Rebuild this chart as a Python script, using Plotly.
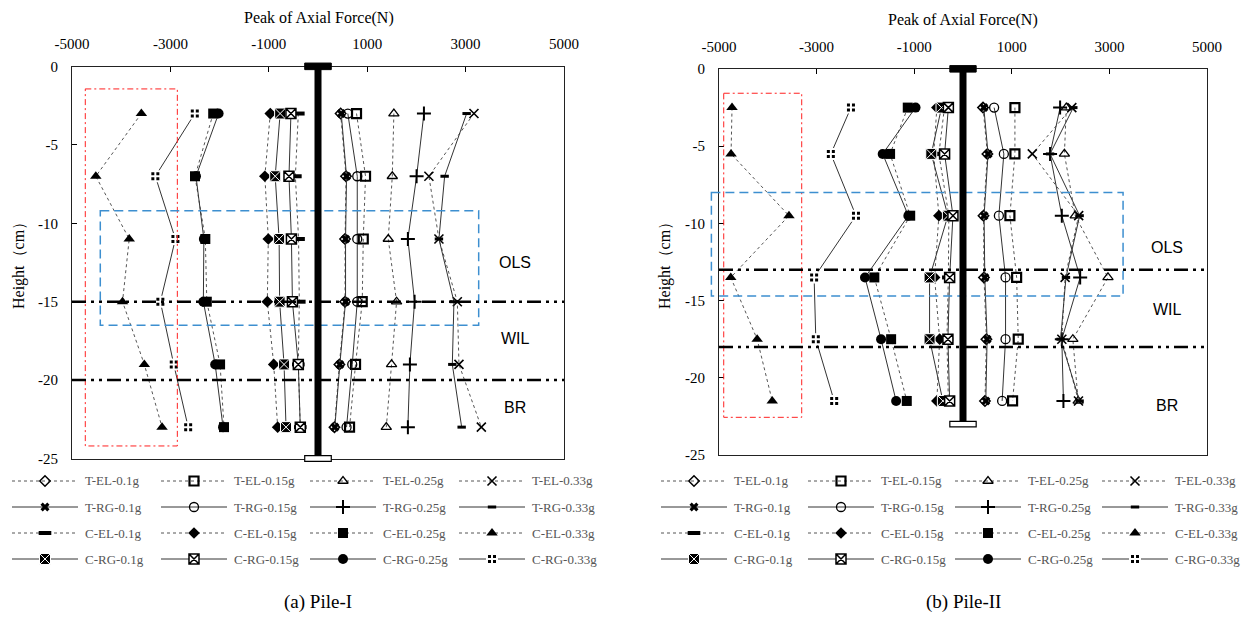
import plotly.graph_objects as go

W, H = 1253, 634

# ---------------- data ----------------
levels = ["0.1g", "0.15g", "0.25g", "0.33g"]
groups_order = ["T-EL", "T-RG", "C-EL", "C-RG"]
x_ticks = [-5000, -3000, -1000, 1000, 3000, 5000]
x_ticklabels = ["-5000", "-3000", "-1000", "1000", "3000", "5000"]
y_ticks = [0, -5, -10, -15, -20, -25]
y_ticklabels = ["0", "-5", "-10", "-15", "-20", "-25"]

depth_I = [-3, -7, -11, -15, -19, -23]
depth_II = [-2.5, -5.5, -9.5, -13.5, -17.5, -21.5]

# Pile-I (rows = 0.1g, 0.15g, 0.25g, 0.33g)
I_T_EL = [
    [460, 570, 550, 550, 435, 335],
    [783, 966, 920, 899, 763, 641],
    [1542, 1510, 1428, 1597, 1495, 1388],
    [3170, 2254, 2458, 2832, 2865, 3320],
]
I_T_RG = [
    [472, 580, 560, 560, 444, 342],
    [606, 798, 798, 798, 696, 580],
    [2153, 2004, 1827, 1963, 1868, 1827],
    [3021, 2574, 2458, 2763, 2730, 2920],
]
I_C_EL = [
    [-400, -460, -395, -380, -400, -360],
    [-970, -1080, -1010, -1030, -900, -820],
    [-2130, -2500, -2290, -2260, -1990, -1910],
    [-3590, -4516, -3837, -3973, -3530, -3170],
]
I_C_RG = [
    [-770, -870, -790, -780, -690, -650],
    [-550, -590, -540, -520, -400, -360],
    [-2020, -2480, -2320, -2330, -2090, -1930],
    [-2504, -3306, -2898, -3204, -2932, -2639],
]

# Pile-II
II_T_EL = [
    [410, 500, 420, 430, 480, 450],
    [1064, 1064, 961, 1099, 1132, 1016],
    [2117, 2078, 2300, 2971, 2251, 2360],
    [2230, 1420, 2370, 2092, 2025, 2366],
]
II_T_RG = [
    [426, 514, 432, 447, 494, 467],
    [638, 837, 735, 872, 872, 802],
    [1990, 1784, 2025, 2401, 2025, 2058],
    [2260, 1784, 2390, 2110, 2000, 2390],
]
II_C_EL = [
    [-380, -494, -290, -300, -330, -300],
    [-535, -600, -494, -582, -479, -535],
    [-1132, -1494, -1082, -1817, -1473, -1152],
    [-4733, -4753, -3566, -4759, -4218, -3909],
]
II_C_RG = [
    [-440, -650, -309, -685, -685, -412],
    [-300, -377, -206, -274, -309, -274],
    [-973, -1646, -1120, -2008, -1679, -1370],
    [-2296, -2708, -2193, -3051, -3016, -2640],
]

# ---------------- layout geometry ----------------
XDOM = {1: [72 / W, 564 / W], 2: [719 / W, 1207 / W]}
YDOM = {1: [1 - 458.5 / H, 1 - 66.5 / H], 2: [1 - 455 / H, 1 - 69 / H]}


def px(v, k):
    d = XDOM[k]
    return d[0] + (v + 5000) / 10000 * (d[1] - d[0])


def py(v, k):
    d = YDOM[k]
    return d[0] + (v + 25) / 25 * (d[1] - d[0])


def ppx(p):
    return p / W


def ppy(p):
    return 1 - p / H


SERIF = "Liberation Serif"
SANS = "Liberation Sans"

# marker styles per group/level
STY = {
    "T-EL": [dict(symbol="diamond-open", size=8, line=dict(width=1.5, color="black"), color="black"),
             dict(symbol="square-open", size=9, line=dict(width=2.2, color="black"), color="black"),
             dict(symbol="triangle-up-open", size=9, line=dict(width=1.3, color="black"), color="black"),
             dict(symbol="x-thin-open", size=9, line=dict(width=1.6, color="black"), color="black")],
    "T-RG": [dict(symbol="x", size=8, line=dict(width=0, color="black"), color="black"),
             dict(symbol="circle-open", size=9, line=dict(width=1.3, color="black"), color="black"),
             dict(symbol="cross-thin-open", size=10, line=dict(width=2, color="black"), color="black"),
             dict(symbol="line-ew-open", size=6, line=dict(width=3, color="black"), color="black")],
    "C-EL": [dict(symbol="line-ew-open", size=9, line=dict(width=4, color="black"), color="black"),
             dict(symbol="diamond", size=9, line=dict(width=0, color="black"), color="black"),
             dict(symbol="square", size=10, line=dict(width=0, color="black"), color="black"),
             dict(symbol="triangle-up", size=10, line=dict(width=0, color="black"), color="black")],
    "C-RG": [dict(symbol="square-x", size=11, line=dict(width=1, color="white"), color="black"),
             dict(symbol="square-x", size=10, line=dict(width=1.5, color="black"), color="white"),
             dict(symbol="circle", size=10, line=dict(width=0, color="black"), color="black"),
             dict(symbol="square-cross", size=10, line=dict(width=2, color="white"), color="black")],
}
DASHED = {"T-EL": True, "T-RG": False, "C-EL": True, "C-RG": False}


def line_style(g):
    dashed = DASHED[g]
    return dict(color="#555555" if dashed else "#333333", width=1,
                dash="3px,3px" if dashed else "solid")


fig = go.Figure()

piles = [
    (1, depth_I, {"T-EL": I_T_EL, "T-RG": I_T_RG, "C-EL": I_C_EL, "C-RG": I_C_RG}),
    (2, depth_II, {"T-EL": II_T_EL, "T-RG": II_T_RG, "C-EL": II_C_EL, "C-RG": II_C_RG}),
]

for k, depth, groups in piles:
    for g in groups_order:
        for i, lv in enumerate(levels):
            fig.add_trace(go.Scatter(
                x=groups[g][i], y=depth,
                mode="lines+markers",
                name=f"{g}-{lv}",
                line=line_style(g),
                marker=STY[g][i],
                xaxis="x" if k == 1 else "x2",
                yaxis="y" if k == 1 else "y2",
                showlegend=False,
                cliponaxis=False,
            ))

shapes = []
annotations = []

# ---- legends (drawn on a full-page overlay axis, in pixels) ----
LEG_COL0 = {1: 12, 2: 661}
LEG_STEP = {1: 149, 2: 147}
LEG_ROWS = [481, 507, 533, 559]
LEG_LINE = 66
for k in (1, 2):
    for gi, g in enumerate(groups_order):
        for li, lv in enumerate(levels):
            x0 = LEG_COL0[k] + li * LEG_STEP[k]
            yy = LEG_ROWS[gi]
            fig.add_trace(go.Scatter(
                x=[x0, x0 + LEG_LINE], y=[yy, yy], mode="lines",
                line=line_style(g), xaxis="x3", yaxis="y3",
                showlegend=False, hoverinfo="skip", cliponaxis=False))
            fig.add_trace(go.Scatter(
                x=[x0 + LEG_LINE / 2], y=[yy], mode="markers",
                marker=STY[g][li], xaxis="x3", yaxis="y3",
                showlegend=False, hoverinfo="skip", cliponaxis=False))
            annotations.append(dict(
                x=ppx(x0 + LEG_LINE + 5), y=ppy(yy), xref="paper", yref="paper",
                xanchor="left", yanchor="middle", showarrow=False,
                text=f"{g}-{lv}", font=dict(family=SERIF, size=13, color="#555555")))

# ---- decorations (pile, zones) ----
zone_I = dict(red=(-4730, -2859, -1.43, -24.2), blue=(-4425, 3266, -9.2, -16.5),
              lines=(-15, -20))
zone_II = dict(red=(-4903, -3305, -1.57, -22.56), blue=(-5156, 3280, -8.0, -14.7),
               lines=(-13, -18))
pile_bottom = {1: -25, 2: -23.0}

for k, z in [(1, zone_I), (2, zone_II)]:
    x0, x1, y0, y1 = z["red"]
    shapes.append(dict(type="rect", xref="paper", yref="paper",
                       x0=px(x0, k), x1=px(x1, k), y0=py(y0, k), y1=py(y1, k),
                       line=dict(color="#ff2020", width=1, dash="6px,3px,2px,3px")))
    x0, x1, y0, y1 = z["blue"]
    shapes.append(dict(type="rect", xref="paper", yref="paper",
                       x0=px(x0, k), x1=px(x1, k), y0=py(y0, k), y1=py(y1, k),
                       line=dict(color="#3d8fd0", width=1.5, dash="9px,5px")))
    for yy in z["lines"]:
        shapes.append(dict(type="line", xref="paper", yref="paper",
                           x0=px(-5000, k), x1=px(5000, k), y0=py(yy, k), y1=py(yy, k),
                           line=dict(color="black", width=2.5, dash="14px,5px,3px,5px,3px,5px")))
    # pile
    yb = pile_bottom[k]
    shapes.append(dict(type="line", xref="paper", yref="paper",
                       x0=px(0, k), x1=px(0, k), y0=py(0, k), y1=py(yb, k),
                       line=dict(color="black", width=7)))
    shapes.append(dict(type="rect", xref="paper", yref="paper",
                       x0=px(-270, k), x1=px(270, k), y0=py(0.22, k), y1=py(-0.2, k),
                       fillcolor="black", line=dict(color="black", width=1)))
    shapes.append(dict(type="rect", xref="paper", yref="paper",
                       x0=px(-270, k), x1=px(270, k), y0=py(yb + 0.18, k), y1=py(yb - 0.18, k),
                       fillcolor="white", line=dict(color="black", width=1.2)))

CM = dict(xanchor="center", yanchor="middle", showarrow=False, xref="paper", yref="paper")

# zone labels
for (xp, yp, t) in [(515, 262, "OLS"), (515, 338, "WIL"), (515, 407, "BR"),
                    (1167, 247, "OLS"), (1167, 309, "WIL"), (1167, 405, "BR")]:
    annotations.append(dict(x=ppx(xp), y=ppy(yp), text=t,
                            font=dict(family=SANS, size=16, color="black"), **CM))

# axis titles and captions
for xc, yt in [(319, 18), (963, 20)]:
    annotations.append(dict(x=ppx(xc), y=ppy(yt), text="Peak of Axial Force(N)",
                            font=dict(family=SERIF, size=16, color="black"), **CM))
for xc in [19, 665]:
    annotations.append(dict(x=ppx(xc), y=ppy(262), text="Height（cm）", textangle=-90,
                            font=dict(family=SERIF, size=16, color="black"), **CM))
for xc, t in [(318, "(a) Pile-I"), (963, "(b) Pile-II")]:
    annotations.append(dict(x=ppx(xc), y=ppy(602), text=t,
                            font=dict(family=SERIF, size=19, color="black"), **CM))


def xaxis(k):
    return dict(domain=XDOM[k], range=[-5000, 5000], side="top",
                tickmode="array", tickvals=x_ticks, ticktext=x_ticklabels,
                ticks="inside", ticklen=5, tickcolor="black", showline=True, mirror=True,
                linecolor="#222222", linewidth=1.2, showgrid=False, zeroline=False,
                ticklabelstandoff=10, automargin=False,
                tickfont=dict(family=SERIF, size=15, color="black"),
                anchor="y" if k == 1 else "y2")


def yaxis(k):
    return dict(domain=YDOM[k], range=[-25, 0],
                tickmode="array", tickvals=y_ticks, ticktext=y_ticklabels,
                ticks="inside", ticklen=5, tickcolor="black", showline=True, mirror=True,
                linecolor="#222222", linewidth=1.2, showgrid=False, zeroline=False,
                ticklabelstandoff=10, automargin=False,
                tickfont=dict(family=SERIF, size=15, color="black"),
                anchor="x" if k == 1 else "x2")


fig.update_layout(
    width=W, height=H, margin=dict(l=0, r=0, t=0, b=0, autoexpand=False),
    paper_bgcolor="white", plot_bgcolor="rgba(0,0,0,0)",
    showlegend=False,
    xaxis=xaxis(1), yaxis=yaxis(1), xaxis2=xaxis(2), yaxis2=yaxis(2),
    xaxis3=dict(domain=[0, 1], range=[0, W], visible=False, fixedrange=True, anchor="y3"),
    yaxis3=dict(domain=[0, 1], range=[H, 0], visible=False, fixedrange=True, anchor="x3"),
    shapes=shapes, annotations=annotations,
)

fig.write_html("out.html")
